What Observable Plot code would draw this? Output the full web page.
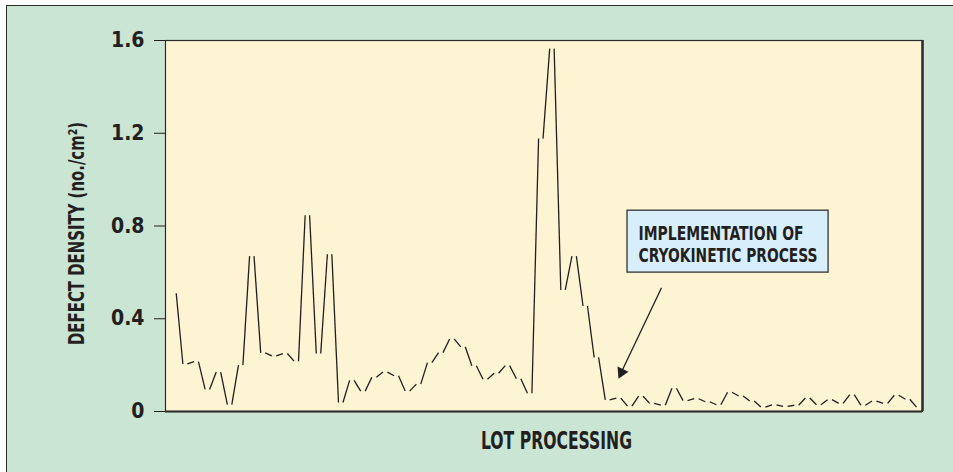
<!DOCTYPE html>
<html><head><meta charset="utf-8">
<script src="https://cdn.jsdelivr.net/npm/d3@7"></script>
<script src="https://cdn.jsdelivr.net/npm/@observablehq/plot@0.6"></script>
<style>
html,body{margin:0;padding:0;background:#fff;overflow:hidden;width:953px;height:472px;}
#bg{position:absolute;left:6px;top:5px;width:980px;height:500px;background:#cae5d4;border:1.5px solid #2a2a2a;}
#chart{position:absolute;left:0;top:0;}
</style></head><body><div id="bg"></div><div id="chart"></div>
<script>
// ---- data ----
const density = [0.51,0.205,0.215,0.095,0.17,0.03,0.2,0.67,0.253,0.24,
  0.25,0.217,0.846,0.25,0.678,0.039,0.134,0.088,0.148,0.17,
  0.154,0.088,0.118,0.211,0.254,0.313,0.279,0.197,0.139,0.165,
  0.198,0.141,0.079,1.177,1.565,0.524,0.67,0.455,0.233,0.05,
  0.058,0.023,0.066,0.035,0.027,0.1,0.047,0.055,0.042,0.029,
  0.083,0.067,0.045,0.019,0.029,0.022,0.027,0.058,0.029,0.051,
  0.035,0.073,0.027,0.045,0.035,0.07,0.053,0.019];
const lots = density.map((_, i) => i);
const yTicks = [0, 0.4, 0.8, 1.2, 1.6];
const yTitle = "DEFECT DENSITY (no./cm²)";
const xTitle = "LOT PROCESSING";
const noteLines = ["IMPLEMENTATION OF", "CRYOKINETIC PROCESS"];

// ---- build ----
const FONT = '"Liberation Sans Narrow","DejaVu Sans Condensed","Arial Narrow",sans-serif';
const INK = "#231f20";
const gap = 0.2; // break at each vertex
const segs = lots.slice(0, -1).map(i => ({
  x1: lots[i] + gap, y1: density[i], x2: lots[i + 1] - gap, y2: density[i + 1]
}));
const xMin = -0.765, xMax = 67.34;

const plot = Plot.plot({
  width: 953, height: 472,
  marginLeft: 165, marginRight: 31, marginTop: 40, marginBottom: 61,
  style: {background: "transparent", fontFamily: FONT, fontWeight: "bold", fontSize: "21px", color: INK},
  x: {domain: [xMin, xMax], axis: null},
  y: {domain: [0, 1.6], ticks: yTicks, tickSize: 11, tickPadding: 10,
      tickFormat: d => d === 0 ? "0" : d.toFixed(1), label: null},
  marks: [
    Plot.frame({fill: "#fdf4d3", stroke: "#2b2b2b", strokeWidth: 1.2}),
    Plot.ruleX([xMax], {stroke: "#2b2b2b", strokeWidth: 2.5}),
    Plot.ruleY([0], {stroke: "#2b2b2b", strokeWidth: 2}),
    Plot.link(segs, {x1: "x1", y1: "y1", x2: "x2", y2: "y2", stroke: INK, strokeWidth: 1.3}),
    // annotation
    Plot.rect([{x1: 40.8, x2: 58.89, y1: 0.599, y2: 0.866}],
      {x1: "x1", x2: "x2", y1: "y1", y2: "y2", fill: "#d9eefb", stroke: "#333", strokeWidth: 1.3}),
    Plot.text(noteLines, {x: 41.79, y: (d, i) => [0.767, 0.672][i], text: d => d,
      textAnchor: "start", lineAnchor: "middle", fontSize: 20, fontWeight: "bold", fill: INK}),
    Plot.link([{x1: 43.86, y1: 0.534, x2: 40.3, y2: 0.175}],
      {x1: "x1", y1: "y1", x2: "x2", y2: "y2", stroke: INK, strokeWidth: 1.3}),
    Plot.dot([{x: 40.26, y: 0.169}], {x: "x", y: "y", symbol: "triangle", r: 4.5, rotate: 205.3, fill: INK, stroke: "none"}),
    // titles
    Plot.text([yTitle], {frameAnchor: "left", dx: -89, dy: 7.5, rotate: -90, text: d => d,
      textAnchor: "middle", lineAnchor: "middle", fontSize: 22, fontWeight: "bold", fill: INK}),
    Plot.text([xTitle], {frameAnchor: "bottom", dx: 12.5, dy: 30, text: d => d,
      textAnchor: "middle", lineAnchor: "middle", fontSize: 24, fontWeight: "bold", fill: INK})
  ]
});

const lengths = {"LOT PROCESSING": 151, "DEFECT DENSITY (no./cm²)": 223,
  "IMPLEMENTATION OF": 165, "CRYOKINETIC PROCESS": 179};
d3.select(plot).selectAll("text").each(function () {
  const t = this.textContent;
  if (lengths[t]) {
    this.setAttribute("textLength", lengths[t]);
    this.setAttribute("lengthAdjust", "spacingAndGlyphs");
  }
});
document.getElementById("chart").appendChild(plot);
</script>
</body></html>
